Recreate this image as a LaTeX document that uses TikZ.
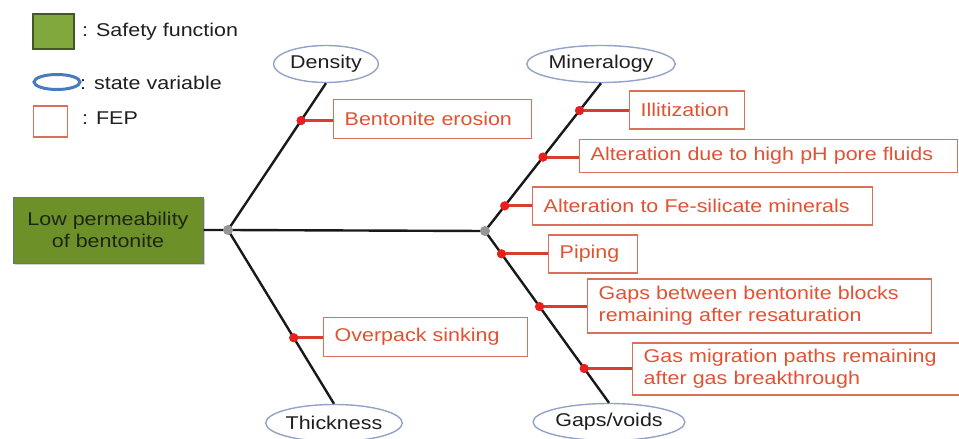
\documentclass[tikz,border=0pt]{standalone}
\usepackage{fontspec}
\setmainfont{Liberation Sans}[FakeStretch=1.16]
\usetikzlibrary{shapes.geometric,shadows}

\definecolor{fepred}{RGB}{224,82,50}
\definecolor{fepedge}{RGB}{216,112,90}
\definecolor{dotred}{RGB}{234,30,30}
\definecolor{linkred}{RGB}{214,62,46}
\definecolor{svedge}{RGB}{146,162,200}
\definecolor{svlegend}{RGB}{72,122,190}
\definecolor{sfgreen}{RGB}{110,144,40}
\definecolor{sfedge}{RGB}{104,116,128}
\definecolor{lggreen}{RGB}{128,168,60}
\definecolor{lgedge}{RGB}{66,88,40}
\definecolor{sftext}{RGB}{28,38,18}
\definecolor{hubgray}{RGB}{150,150,150}

\tikzset{
  txt/.style={font=\fontsize{18.5}{22}\selectfont},
  statevar/.style={txt, ellipse, draw=svedge, line width=1.4pt, fill=white,
    minimum height=37pt, inner sep=0pt, text=black!88},
  fepbox/.style={txt, rectangle, draw=fepedge, line width=1.4pt, text=fepred,
    anchor=west, align=left, inner xsep=11pt, inner ysep=0pt},
  safety/.style={txt, rectangle, draw=sfedge, line width=1pt, fill=sfgreen,
    text=sftext, align=center, minimum width=190pt, minimum height=66pt,
    drop shadow={shadow xshift=2pt, shadow yshift=-2pt, fill=black!35, opacity=0.5}},
  branch/.style={line width=2.4pt, black!90},
  link/.style={line width=2.8pt, linkred},
  fepdot/.style={circle, fill=dotred, inner sep=0pt, minimum size=9pt},
  hub/.style={circle, fill=hubgray, inner sep=0pt, minimum size=10pt},
  legendtext/.style={txt, anchor=west, inner sep=0pt, text=black!88}
}

\begin{document}
\begin{tikzpicture}[x=1pt, y=-1pt]
\useasboundingbox (0,0) rectangle (959,439);

% legend
\node[draw=lgedge, line width=2pt, fill=lggreen, minimum width=41pt,
  minimum height=35pt, inner sep=0pt] (lgSF) at (53,31.5) {};
\node[legendtext] (lgSFt) at (82,32) {: Safety function};
\node[ellipse, draw=svlegend, line width=3pt, minimum width=46pt,
  minimum height=15pt, inner sep=0pt] (lgSV) at (57,82) {};
\node[legendtext] (lgSVt) at (80,83) {: state variable};
\node[draw=fepedge, line width=1.4pt, minimum width=34pt,
  minimum height=31pt, inner sep=0pt] (lgFEP) at (50.5,121.5) {};
\node[legendtext] (lgFEPt) at (82,118) {: FEP};

% safety function and state variables
\node[safety] (sf) at (108,230) {Low permeability\\of bentonite};
\node[statevar, minimum width=105pt] (dens) at (326,64) {Density};
\node[statevar, minimum width=117pt] (thick) at (334,423) {Thickness};
\node[statevar, minimum width=144pt] (mine) at (601,64) {Mineralogy};
\node[statevar, minimum width=128pt] (gaps) at (609,422) {Gaps/voids};

\coordinate (J1) at (228,230);
\coordinate (J2) at (485,231);

% main spine and branches
\draw[branch] (sf.east) -- (J1) -- (J2);
\draw[branch] (J1) -- (dens.south) node[fepdot, pos=0.746] (d1) {};
\draw[branch] (J1) -- (thick.north) node[fepdot, pos=0.62] (d8) {};
\draw[branch] (J2) -- (mine.south)
  node[fepdot, pos=0.815] (d2) {}
  node[fepdot, pos=0.50] (d3) {}
  node[fepdot, pos=0.17] (d4) {};
\draw[branch] (J2) -- (gaps.north)
  node[fepdot, pos=0.133] (d5) {}
  node[fepdot, pos=0.44] (d6) {}
  node[fepdot, pos=0.80] (d7) {};
\node[hub] (h1) at (J1) {};
\node[hub] (h2) at (J2) {};

% FEP boxes
\node[fepbox, text width=176pt, minimum height=39pt] (b1) at (333,119) {\mbox{Bentonite erosion}};
\node[fepbox, text width=93pt, minimum height=38pt] (b2) at (629,110) {\mbox{Illitization}};
\node[fepbox, text width=356pt, minimum height=33pt] (b3) at (579,156) {\mbox{Alteration due to high pH pore fluids}};
\node[fepbox, text width=318pt, minimum height=38pt] (b4) at (532,206) {\mbox{Alteration to Fe-silicate minerals}};
\node[fepbox, text width=67pt, minimum height=38pt] (b5) at (548,254) {\mbox{Piping}};
\node[fepbox, text width=322pt, minimum height=54pt] (b6) at (587,306) {\mbox{Gaps between bentonite blocks}\\\mbox{remaining after resaturation}};
\node[fepbox, text width=316pt, minimum height=52pt] (b7) at (632,369) {\mbox{Gas migration paths remaining}\\\mbox{after gas breakthrough}};
\node[fepbox, text width=182pt, minimum height=39pt] (b8) at (323,337) {\mbox{Overpack sinking}};

% links from branches to FEPs
\foreach \i in {1,...,8}{
  \draw[link] (d\i.center) -- (d\i.center -| b\i.west);
}
\foreach \i in {1,...,8}{
  \node[fepdot] at (d\i) {};
}
\end{tikzpicture}
\end{document}
